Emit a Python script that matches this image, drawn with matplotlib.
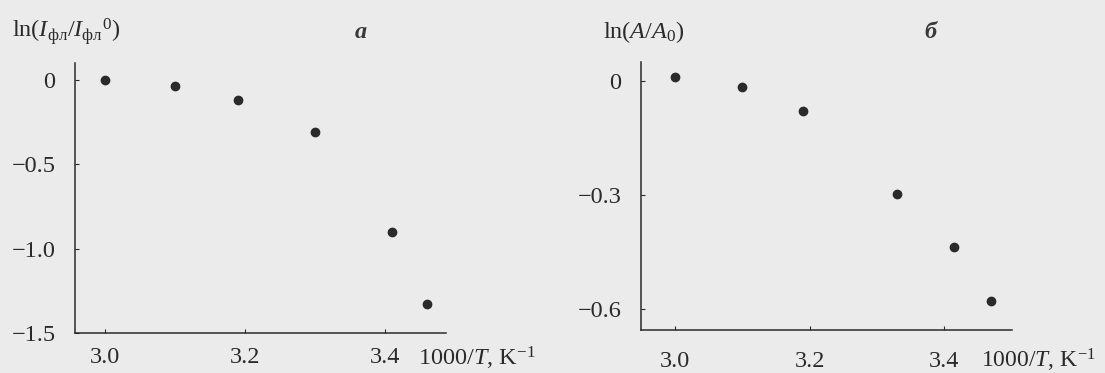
import matplotlib
matplotlib.use("Agg")
import matplotlib.pyplot as plt

# data (x = 1000/T, K^-1)
x_a = [3.00, 3.10, 3.19, 3.30, 3.41, 3.46]
y_a = [0.0, -0.036, -0.12, -0.31, -0.90, -1.33]   # ln(I/I0)

x_b = [3.00, 3.10, 3.19, 3.33, 3.415, 3.47]
y_b = [0.01, -0.016, -0.079, -0.297, -0.437, -0.579]  # ln(A/A0)

xticks = [3.0, 3.2, 3.4]
yticks_a = [0, -0.5, -1.0, -1.5]
yticks_b = [0, -0.3, -0.6]
xticklabels = ["3.0", "3.2", "3.4"]
yticklabels_a = ["0", "\u22120.5", "\u22121.0", "\u22121.5"]
yticklabels_b = ["0", "\u22120.3", "\u22120.6"]

plt.rcParams["font.family"] = ["Liberation Serif", "DejaVu Serif"]
plt.rcParams["mathtext.fontset"] = "custom"
plt.rcParams["mathtext.rm"] = "Liberation Serif"
plt.rcParams["mathtext.it"] = "Liberation Serif:italic"
plt.rcParams["mathtext.bf"] = "Liberation Serif:bold"

ink = "#2a2a2a"
bg = "#ebebeb"
fs = 17.5

fig = plt.figure(figsize=(11.05, 3.73), dpi=100, facecolor=bg)
ax_a = fig.add_axes([0.0679, 0.1072, 0.3357, 0.724])
ax_b = fig.add_axes([0.580, 0.1153, 0.3357, 0.7185])


def style(ax, xlim, ylim, yticks, yticklabels, xpad):
    ax.set_facecolor("none")
    ax.set_xlim(*xlim)
    ax.set_ylim(*ylim)
    for s in ["top", "right"]:
        ax.spines[s].set_visible(False)
    for s in ["left", "bottom"]:
        ax.spines[s].set_color(ink)
        ax.spines[s].set_linewidth(1.1)
    ax.set_xticks(xticks)
    ax.set_xticklabels(xticklabels)
    ax.set_yticks(yticks)
    ax.set_yticklabels(yticklabels)
    ax.tick_params(axis="both", direction="in", length=3, width=0.8,
                   colors=ink, labelsize=fs, labelcolor=ink)
    ax.tick_params(axis="x", pad=xpad)
    ax.tick_params(axis="y", pad=14)


style(ax_a, (2.957, 3.487), (-1.5, 0.10), yticks_a, yticklabels_a, 10)
style(ax_b, (2.949, 3.501), (-0.655, 0.05), yticks_b, yticklabels_b, 15)

ax_a.plot(x_a, y_a, "o", color=ink, markersize=6, clip_on=False)
ax_b.plot(x_b, y_b, "o", color=ink, markersize=6, clip_on=False)

# axis captions in the corners
ax_a.text(0.925, -0.093, r"1000/$T$, K$^{\mathrm{-1}}$", transform=ax_a.transAxes,
          ha="left", va="center", fontsize=fs, color=ink)
ax_b.text(0.917, -0.113, r"1000/$T$, K$^{\mathrm{-1}}$", transform=ax_b.transAxes,
          ha="left", va="center", fontsize=fs - 0.5, color=ink)

fig.text(12 / 1105, 1 - 32 / 373, r"ln($I_{\mathrm{фл}}/I_{\mathrm{фл}}{}^{\mathrm{0}}$)",
         ha="left", va="center", fontsize=fs, color=ink)
fig.text(603 / 1105, 1 - 32 / 373, r"ln($A/A_{\mathrm{0}}$)",
         ha="left", va="center", fontsize=fs, color=ink)

fig.text(361 / 1105, 1 - 32 / 373, "a", style="italic", fontweight="bold",
         ha="center", va="center", fontsize=fs, color="#3a3a3a")
fig.text(930 / 1105, 1 - 32 / 373, "б", style="italic", fontweight="bold",
         ha="center", va="center", fontsize=fs, color="#3a3a3a")

fig.savefig("out.png", dpi=100, facecolor=bg)
